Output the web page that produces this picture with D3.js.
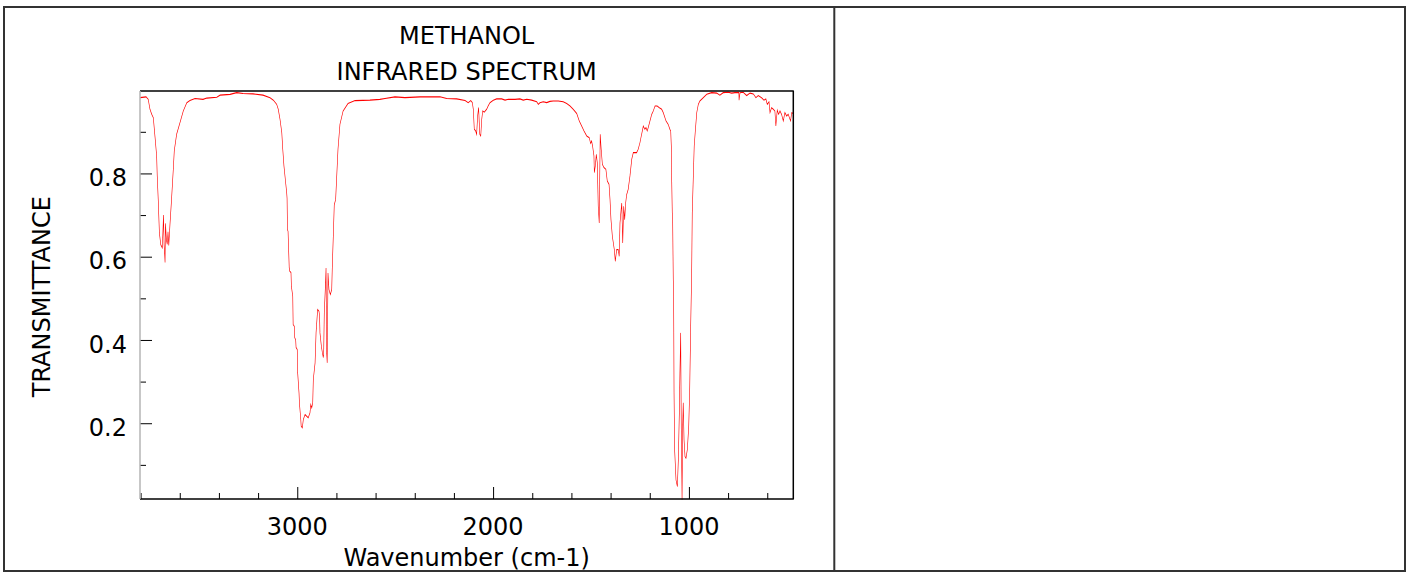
<!DOCTYPE html>
<html>
<head>
<meta charset="utf-8">
<script src="https://cdn.jsdelivr.net/npm/d3@7"></script>
<style>
  html, body { margin: 0; padding: 0; background: #fff; }
  svg { display: block; }
  text { font-family: "DejaVu Sans", sans-serif; fill: #000; }
</style>
</head>
<body>
<svg id="chart" width="1413" height="573"></svg>
<script>
// Methanol IR spectrum: wavenumber (cm-1) vs transmittance
const wavenumber = [
  3803, 3772, 3761, 3752, 3743, 3735, 3726, 3718, 3715, 3710, 3704, 3697, 3689, 3683, 3680,
  3675, 3673, 3668, 3664, 3660, 3656, 3650, 3641, 3633, 3628, 3616, 3599, 3582, 3564, 3548,
  3522, 3481, 3462, 3411, 3394, 3343, 3309, 3277, 3226, 3175, 3139, 3122, 3105, 3097, 3088,
  3079, 3074, 3068, 3061, 3054, 3052, 3050, 3047, 3041, 3038, 3032, 3030, 3023, 3021, 3015,
  3013, 3008, 3006, 3000, 2998, 2991, 2989, 2982, 2980, 2974, 2969, 2960, 2952, 2944, 2935,
  2931, 2926, 2921, 2918, 2909, 2904, 2896, 2889, 2886, 2884, 2877, 2872, 2867, 2865, 2862,
  2857, 2853, 2850, 2847, 2843, 2838, 2831, 2824, 2821, 2816, 2811, 2804, 2792, 2782, 2766,
  2741, 2705, 2629, 2578, 2552, 2501, 2450, 2373, 2271, 2237, 2186, 2143, 2127, 2114, 2106,
  2101, 2096, 2089, 2084, 2079, 2074, 2068, 2063, 2058, 2053, 2045, 2033, 2025, 2016, 1999,
  1982, 1956, 1939, 1922, 1905, 1888, 1863, 1846, 1828, 1803, 1777, 1769, 1761, 1744, 1726,
  1710, 1693, 1667, 1642, 1624, 1607, 1591, 1573, 1560, 1548, 1536, 1522, 1509, 1502, 1497,
  1492, 1485, 1483, 1478, 1473, 1468, 1463, 1458, 1453, 1448, 1442, 1434, 1424, 1417, 1408,
  1403, 1398, 1391, 1386, 1381, 1376, 1369, 1361, 1356, 1352, 1347, 1343, 1338, 1333, 1328,
  1323, 1318, 1310, 1301, 1292, 1284, 1267, 1259, 1250, 1245, 1238, 1233, 1225, 1219, 1213,
  1208, 1199, 1190, 1182, 1173, 1162, 1151, 1139, 1131, 1117, 1106, 1097, 1093, 1090, 1088,
  1085, 1083, 1080, 1078, 1076, 1073, 1066, 1059, 1054, 1049, 1046, 1042, 1039, 1035, 1032,
  1029, 1025, 1020, 1015, 1008, 1001, 996, 991, 986, 983, 978, 973, 968, 960, 952,
  944, 927, 909, 884, 858, 842, 825, 799, 782, 765, 745, 744, 739, 723, 705,
  688, 671, 658, 646, 629, 617, 607, 600, 591, 586, 578, 569, 561, 556, 549,
  542, 535, 527, 518, 510, 501, 493, 481, 475, 467
];
const transmittance = [
  0.982, 0.984, 0.978, 0.954, 0.942, 0.934, 0.886, 0.842, 0.794, 0.738, 0.657, 0.629, 0.621, 0.700, 0.630,
  0.586, 0.680, 0.640, 0.630, 0.660, 0.627, 0.677, 0.745, 0.810, 0.854, 0.894, 0.922, 0.950, 0.970, 0.975,
  0.980, 0.978, 0.981, 0.983, 0.988, 0.990, 0.994, 0.992, 0.991, 0.988, 0.982, 0.976, 0.966, 0.954, 0.930,
  0.898, 0.858, 0.818, 0.786, 0.754, 0.740, 0.665, 0.661, 0.573, 0.565, 0.562, 0.529, 0.505, 0.437, 0.433,
  0.406, 0.400, 0.382, 0.377, 0.322, 0.273, 0.249, 0.209, 0.193, 0.189, 0.209, 0.221, 0.217, 0.213, 0.225,
  0.245, 0.237, 0.249, 0.305, 0.345, 0.417, 0.473, 0.469, 0.457, 0.417, 0.385, 0.370, 0.358, 0.370, 0.466,
  0.521, 0.573, 0.370, 0.345, 0.561, 0.521, 0.509, 0.521, 0.577, 0.649, 0.725, 0.737, 0.858, 0.918, 0.950,
  0.968, 0.975, 0.976, 0.978, 0.980, 0.984, 0.982, 0.984, 0.984, 0.980, 0.979, 0.975, 0.970, 0.975, 0.970,
  0.954, 0.906, 0.902, 0.894, 0.938, 0.958, 0.894, 0.890, 0.930, 0.950, 0.947, 0.954, 0.962, 0.970, 0.976,
  0.979, 0.979, 0.976, 0.978, 0.978, 0.978, 0.979, 0.976, 0.978, 0.976, 0.972, 0.966, 0.970, 0.972, 0.970,
  0.973, 0.974, 0.974, 0.972, 0.968, 0.962, 0.954, 0.944, 0.926, 0.914, 0.902, 0.890, 0.886, 0.872, 0.878,
  0.866, 0.842, 0.802, 0.818, 0.846, 0.826, 0.721, 0.681, 0.894, 0.858, 0.822, 0.814, 0.810, 0.782, 0.774,
  0.738, 0.689, 0.649, 0.633, 0.617, 0.589, 0.617, 0.617, 0.601, 0.681, 0.709, 0.729, 0.633, 0.721, 0.689,
  0.729, 0.749, 0.762, 0.794, 0.834, 0.850, 0.850, 0.858, 0.874, 0.886, 0.902, 0.914, 0.906, 0.910, 0.902,
  0.910, 0.926, 0.942, 0.950, 0.962, 0.962, 0.958, 0.954, 0.946, 0.926, 0.918, 0.906, 0.902, 0.866, 0.786,
  0.705, 0.689, 0.545, 0.505, 0.273, 0.137, 0.064, 0.048, 0.113, 0.225, 0.321, 0.417, 0.185, 0.016, 0.193,
  0.249, 0.161, 0.120, 0.116, 0.137, 0.193, 0.281, 0.433, 0.561, 0.705, 0.786, 0.866, 0.898, 0.946, 0.966,
  0.974, 0.982, 0.990, 0.994, 0.993, 0.988, 0.994, 0.995, 0.993, 0.994, 0.994, 0.976, 0.994, 0.995, 0.987,
  0.993, 0.991, 0.982, 0.987, 0.982, 0.976, 0.979, 0.966, 0.972, 0.946, 0.958, 0.954, 0.950, 0.914, 0.952,
  0.942, 0.950, 0.942, 0.926, 0.946, 0.938, 0.942, 0.926, 0.946, 0.944
];

const xMajorTicks = [3000, 2000, 1000];
const xMinorTicks = [3800, 3600, 3400, 3200, 2800, 2600, 2400, 2200, 1800, 1600, 1400, 1200, 800, 600];
const yMajorTicks = [0.2, 0.4, 0.6, 0.8];
const yMinorTicks = [0.1, 0.3, 0.5, 0.7, 0.9];
const titleLines = ["METHANOL", "INFRARED SPECTRUM"];
const xLabel = "Wavenumber (cm-1)";
const yLabel = "TRANSMITTANCE";

const svg = d3.select("#chart");
const plot = { left: 140, top: 91, right: 793.3, bottom: 499 };

const x = d3.scaleLinear().domain([3803, 467]).range([plot.left, plot.right]);
const y = d3.scaleLinear().domain([0.018, 0.998]).range([plot.bottom, plot.top]);

const points = wavenumber.map((w, i) => [w, transmittance[i]]);

// spectrum trace: drawn in a horizontally stretched space and squeezed back,
// so steep strokes come out thinner (lighter) than the flat ones
const squeeze = 0.55;
const xWide = x.copy().range([plot.left / squeeze, plot.right / squeeze]);
svg.append("g")
  .attr("transform", `scale(${squeeze},1)`)
  .append("path")
  .datum(points)
  .attr("fill", "none")
  .attr("stroke", "#ff0000")
  .attr("stroke-width", 1.1)
  .attr("stroke-linejoin", "miter")
  .attr("d", d3.line().x(d => xWide(d[0])).y(d => y(d[1])));

// tick marks drawn inward
function ticks(axisFn, scale, values, size, tx, ty) {
  const g = svg.append("g")
    .attr("transform", `translate(${tx},${ty})`)
    .call(axisFn(scale).tickValues(values).tickSize(size).tickFormat(""));
  g.select(".domain").remove();
  g.selectAll(".tick line").attr("stroke", "#000");
  return g;
}
ticks(d3.axisBottom, x, xMajorTicks, -12, 0, plot.bottom);
ticks(d3.axisBottom, x, xMinorTicks, -6, 0, plot.bottom);
ticks(d3.axisLeft, y, yMajorTicks, -12, plot.left, 0);
ticks(d3.axisLeft, y, yMinorTicks, -6, plot.left, 0);

// plot frame
svg.append("line").attr("x1", plot.left).attr("x2", plot.right + 0.5)
  .attr("y1", plot.top).attr("y2", plot.top).attr("stroke", "#000").attr("stroke-width", 1.5);
svg.append("line").attr("x1", plot.right).attr("x2", plot.right)
  .attr("y1", plot.top).attr("y2", plot.bottom).attr("stroke", "#000").attr("stroke-width", 1.5);
svg.append("line").attr("x1", plot.left).attr("x2", plot.right + 0.5)
  .attr("y1", plot.bottom).attr("y2", plot.bottom).attr("stroke", "#000").attr("stroke-width", 1.5);
svg.append("line").attr("x1", plot.left).attr("x2", plot.left)
  .attr("y1", plot.top).attr("y2", plot.bottom).attr("stroke", "#b4b4b4").attr("stroke-width", 1.5);

// tick labels
svg.selectAll(".xlab").data(xMajorTicks).enter().append("text")
  .attr("x", d => x(d)).attr("y", plot.bottom + 36)
  .attr("text-anchor", "middle").attr("font-size", 24)
  .text(d => d);
svg.selectAll(".ylab").data(yMajorTicks).enter().append("text")
  .attr("x", 127).attr("y", d => y(d) + 12.7)
  .attr("text-anchor", "end").attr("font-size", 24)
  .text(d => d3.format(".1f")(d));

// titles and axis labels
const cx = (plot.left + plot.right) / 2;
svg.selectAll(".title").data(titleLines).enter().append("text")
  .attr("x", cx).attr("y", (d, i) => 44 + i * 36)
  .attr("text-anchor", "middle").attr("font-size", 24)
  .text(d => d);
svg.append("text")
  .attr("x", cx).attr("y", 566)
  .attr("text-anchor", "middle").attr("font-size", 24)
  .text(xLabel);
svg.append("text")
  .attr("transform", "translate(50,296.7) rotate(-90)")
  .attr("text-anchor", "middle").attr("font-size", 24)
  .text(yLabel);

// outer frame and divider
svg.append("rect").attr("x", 4).attr("y", 7).attr("width", 1401).attr("height", 564)
  .attr("fill", "none").attr("stroke", "#333").attr("stroke-width", 2);
svg.append("line").attr("x1", 834.3).attr("x2", 834.3).attr("y1", 7).attr("y2", 571)
  .attr("stroke", "#333").attr("stroke-width", 2);
</script>
</body>
</html>
